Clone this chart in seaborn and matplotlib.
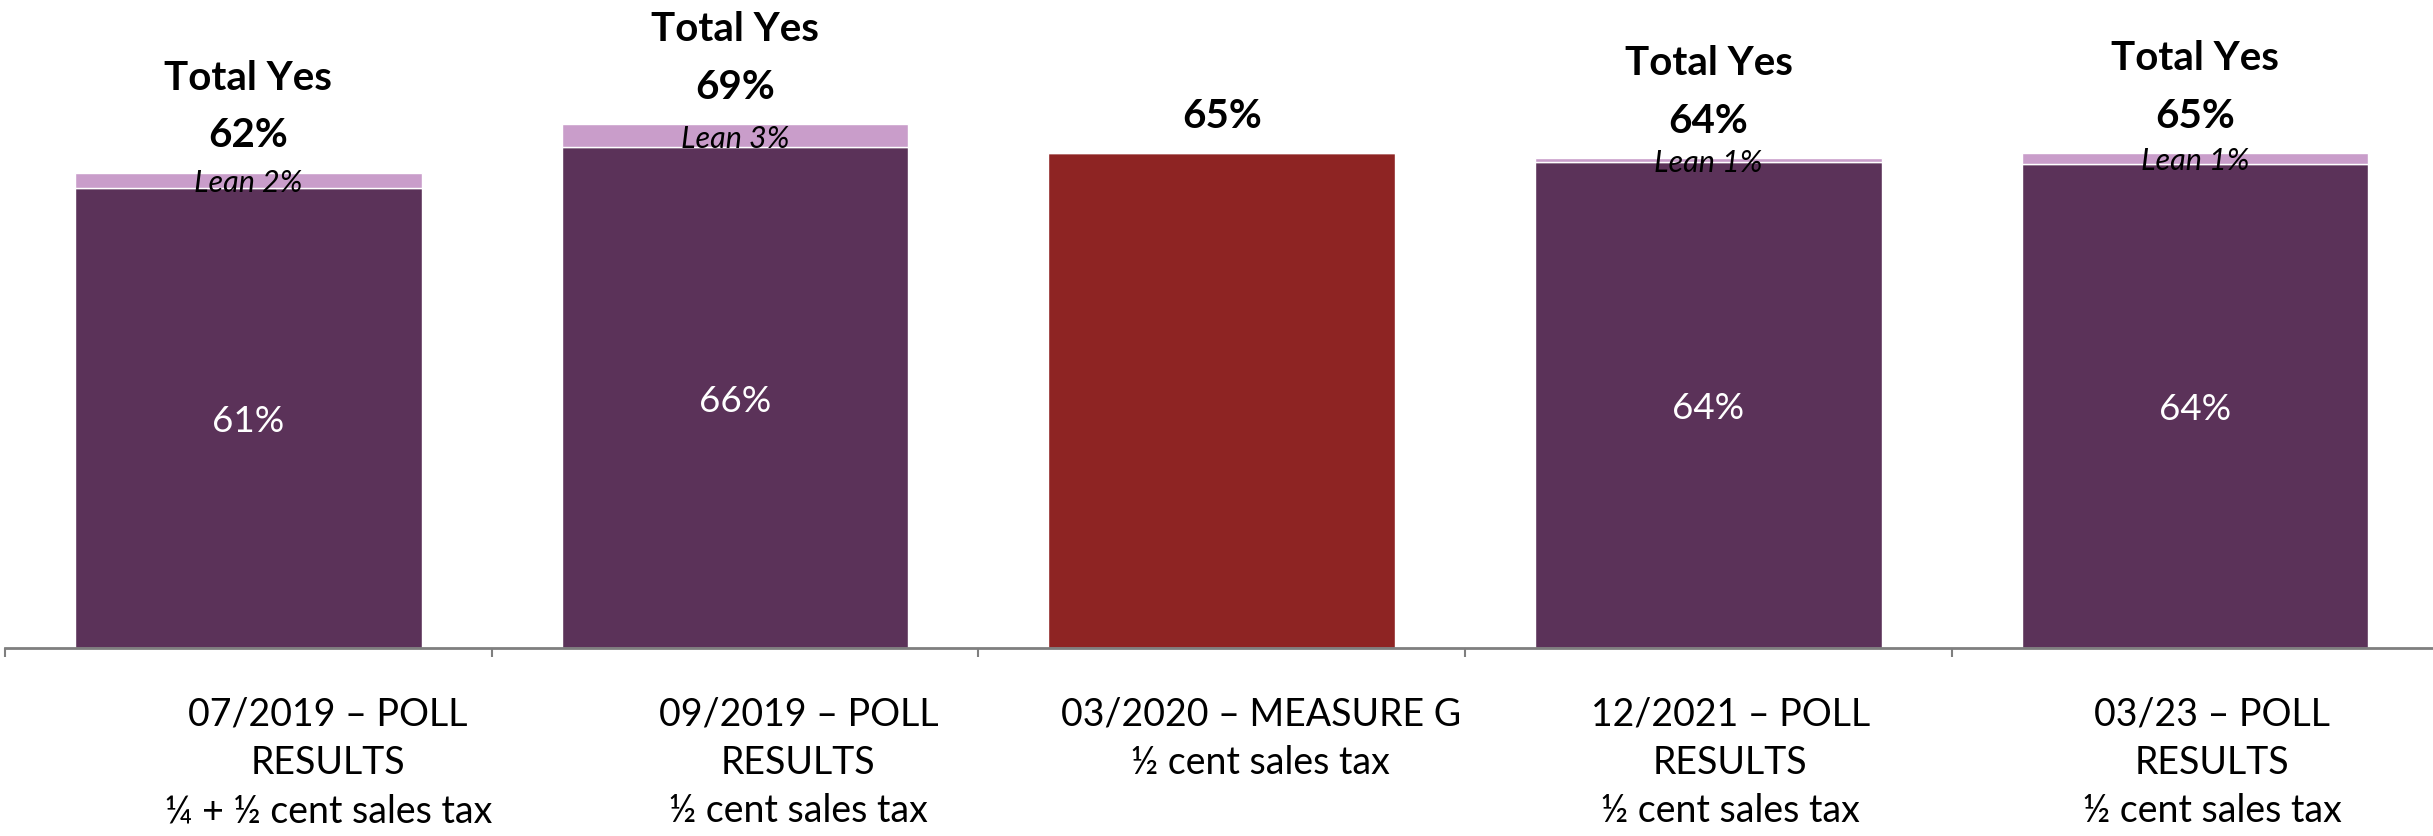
import matplotlib
matplotlib.use('Agg')
import matplotlib.pyplot as plt
import seaborn as sns
import pandas as pd
import numpy as np

# values
categories = ['07/2019 – POLL\nRESULTS\n¼ + ½ cent sales tax',
              '09/2019 – POLL\nRESULTS\n½ cent sales tax',
              '03/2020 – MEASURE G\n½ cent sales tax',
              '12/2021 – POLL\nRESULTS\n½ cent sales tax',
              '03/23 – POLL\nRESULTS\n½ cent sales tax']
yes_values = [60.6, 66.0, 65.2, 64.0, 63.8]
lean_values = [2.0, 3.0, 0.0, 0.5, 1.4]
yes_labels = ['61%', '66%', '', '64%', '64%']
lean_labels = ['Lean 2%', 'Lean 3%', '', 'Lean 1%', 'Lean 1%']
total_labels = ['62%', '69%', '65%', '64%', '65%']
show_total_yes = [True, True, False, True, True]

DARK = '#5B3259'
LIGHT = '#C99DCA'
RED = '#8E2423'
bar_colors = [DARK, DARK, RED, DARK, DARK]
# label blocks sit a bit right of the bar centre in the original slide
label_shift = [0.164, 0.13, 0.08, 0.045, 0.035]

sns.set_theme(style='white')
plt.rcParams['font.family'] = ['Lato', 'DejaVu Sans']

df = pd.DataFrame({'cat': categories, 'yes': yes_values})

fig = plt.figure(figsize=(24.33, 8.37), dpi=100)
ax = fig.add_axes([5 / 2433, 1 - 649 / 837, 2433.5 / 2433, 649 / 837])

sns.barplot(data=df, x='cat', y='yes', hue='cat', palette=bar_colors,
            width=0.712, legend=False, ax=ax, saturation=1)
x = np.arange(len(categories))
ax.bar(x, lean_values, bottom=yes_values, width=0.712, color=LIGHT)

ax.set_xlim(-0.5, len(categories) - 0.5)
ax.set_ylim(0, 85.5)
ax.set_xlabel('')
ax.set_ylabel('')
ax.set_yticks([])
ax.set_xticks(np.arange(-0.5, len(categories)), labels=[])
ax.tick_params(axis='x', direction='out', length=6.5, width=1.5,
               color='#7F7F7F', bottom=True)
for side in ['top', 'right', 'left']:
    ax.spines[side].set_visible(False)
ax.spines['bottom'].set_color('#7F7F7F')
ax.spines['bottom'].set_linewidth(2)

for i in range(len(categories)):
    total = yes_values[i] + lean_values[i]
    ax.annotate(total_labels[i], (i, total), xytext=(0, 19),
                textcoords='offset points', ha='center', va='baseline',
                fontsize=29, fontweight='bold', color='black')
    if show_total_yes[i]:
        ax.annotate('Total Yes', (i, total), xytext=(0, 60.5),
                    textcoords='offset points', ha='center', va='baseline',
                    fontsize=29, fontweight='bold', color='black')
    if lean_labels[i]:
        ax.annotate(lean_labels[i], (i, yes_values[i] + lean_values[i] / 2),
                    xytext=(0, -7.9), textcoords='offset points',
                    ha='center', va='baseline', fontsize=22,
                    fontstyle='italic', color='black')
    if yes_labels[i]:
        ax.annotate(yes_labels[i], (i, yes_values[i] / 2), xytext=(0, -9.6),
                    textcoords='offset points', ha='center', va='baseline',
                    fontsize=26.5, color='white')
    ax.annotate(categories[i], (i + label_shift[i], 0), xytext=(0, -34.5),
                textcoords='offset points', ha='center', va='top',
                multialignment='center', fontsize=27, color='black',
                linespacing=1.42, annotation_clip=False)

fig.savefig('out.png', dpi=100)
